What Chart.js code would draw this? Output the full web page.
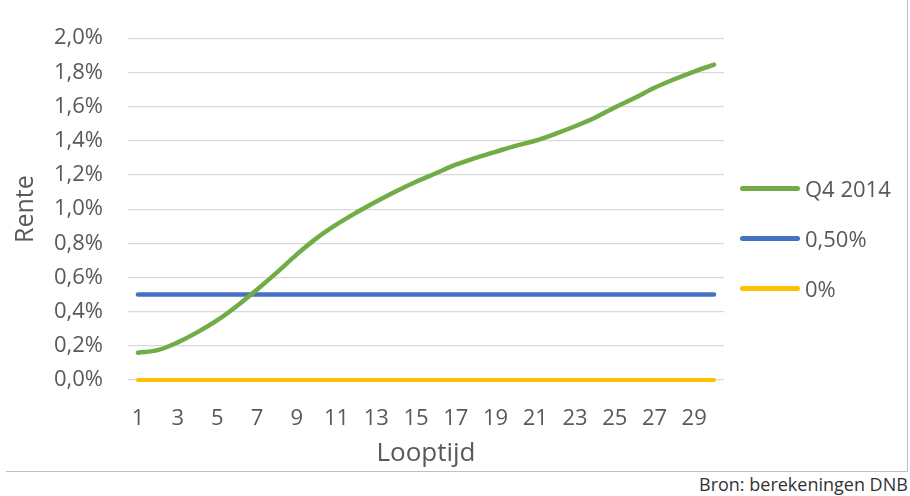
<!DOCTYPE html>
<html lang="nl">
<head>
    <meta charset="UTF-8">
    <title>Rente per looptijd</title>
    <script src="https://cdn.jsdelivr.net/npm/chart.js@4/dist/chart.umd.min.js"></script>
    <style>
        html, body { margin: 0; padding: 0; background: #fff; overflow: hidden; }
        body { width: 910px; height: 496px; position: relative; font-family: "Open Sans", sans-serif; }
        #wrap { position: absolute; left: 0; top: 0; width: 910px; height: 472px; }
        #frame { position: absolute; left: 6px; top: -5px; width: 901px; height: 476px;
                 border-right: 1px solid #bfbfbf; border-bottom: 1px solid #bfbfbf; }
        #legend { position: absolute; left: 740px; top: 163px; }
        #legend .item { display: flex; align-items: center; height: 50px; }
        #legend .swatch { width: 60px; height: 5px; border-radius: 3px; margin-right: 5px; }
        #legend .txt { font-size: 22px; color: #595959; line-height: 1; }
        #bron { position: absolute; left: 699px; top: 475px; font-size: 18px; line-height: 18px;
                color: #333; white-space: nowrap; }
    </style>
</head>
<body>
<div id="frame"></div>
<div id="wrap"><canvas id="renteChart"></canvas></div>
<div id="legend"></div>
<div id="bron">Bron: berekeningen DNB</div>
<script>
    // looptijd in jaren
    var looptijd = [];
    for (var i = 1; i <= 30; i++) looptijd.push(String(i));

    // rente in procenten
    var q4_2014 = [0.16, 0.175, 0.22, 0.28, 0.35, 0.435, 0.53, 0.63, 0.735, 0.83,
                   0.91, 0.98, 1.045, 1.105, 1.16, 1.21, 1.26, 1.30, 1.335, 1.37,
                   1.40, 1.44, 1.485, 1.535, 1.595, 1.65, 1.71, 1.76, 1.805, 1.845];
    var vast050 = looptijd.map(function () { return 0.5; });
    var nul = looptijd.map(function () { return 0; });

    var seriesNames = ['Q4 2014', '0,50%', '0%'];
    var seriesColors = ['#70ad47', '#4472c4', '#ffc000'];

    var txt = '#595959';
    var fam = '"Open Sans", sans-serif';

    var htmlLegend = {
        id: 'htmlLegend',
        afterUpdate: function (chart) {
            var box = document.getElementById('legend');
            box.innerHTML = '';
            var items = chart.options.plugins.legend.labels.generateLabels(chart);
            items.forEach(function (it) {
                var row = document.createElement('div');
                row.className = 'item';
                var sw = document.createElement('div');
                sw.className = 'swatch';
                sw.style.background = it.strokeStyle;
                var t = document.createElement('span');
                t.className = 'txt';
                t.textContent = it.text;
                row.appendChild(sw);
                row.appendChild(t);
                box.appendChild(row);
            });
        }
    };

    var ctx = document.getElementById('renteChart');
    new Chart(ctx, {
        type: 'line',
        data: {
            labels: looptijd,
            datasets: [
                { label: seriesNames[0], data: q4_2014, borderColor: seriesColors[0], backgroundColor: seriesColors[0], clip: false },
                { label: seriesNames[1], data: vast050, borderColor: seriesColors[1], backgroundColor: seriesColors[1], clip: false },
                { label: seriesNames[2], data: nul, borderColor: seriesColors[2], backgroundColor: seriesColors[2], clip: false, borderWidth: 4 }
            ]
        },
        options: {
            responsive: true,
            maintainAspectRatio: false,
            animation: false,
            layout: { padding: { top: 35, right: 186, bottom: 0, left: 0 } },
            elements: {
                point: { radius: 0, hoverRadius: 0 },
                line: { borderWidth: 4.5, tension: 0.35, borderCapStyle: 'round', fill: false }
            },
            plugins: {
                legend: { display: false },
                tooltip: { enabled: false }
            },
            scales: {
                x: {
                    offset: true,
                    grid: { display: false },
                    border: { display: false },
                    ticks: {
                        autoSkip: false, maxRotation: 0, padding: 18,
                        color: txt, font: { family: fam, size: 22 },
                        callback: function (v, i) { return i % 2 === 0 ? looptijd[i] : ''; }
                    },
                    title: { display: true, text: 'Looptijd', color: txt,
                             font: { family: fam, size: 26 }, padding: { top: 4, bottom: 3 } },
                    afterFit: function (s) { s.height = 92; }
                },
                y: {
                    min: 0, max: 2,
                    grid: { color: '#d9d9d9', lineWidth: 1.2, drawTicks: false },
                    border: { display: false },
                    ticks: {
                        stepSize: 0.2, padding: 25, color: txt, font: { family: fam, size: 22 },
                        callback: function (v) { return v.toFixed(1).replace('.', ',') + '%'; }
                    },
                    title: { display: true, text: 'Rente', color: txt,
                             font: { family: fam, size: 25 }, padding: { top: 11, bottom: 4 } },
                    afterFit: function (s) { s.width = 128; }
                }
            }
        },
        plugins: [htmlLegend]
    });
</script>
</body>
</html>
